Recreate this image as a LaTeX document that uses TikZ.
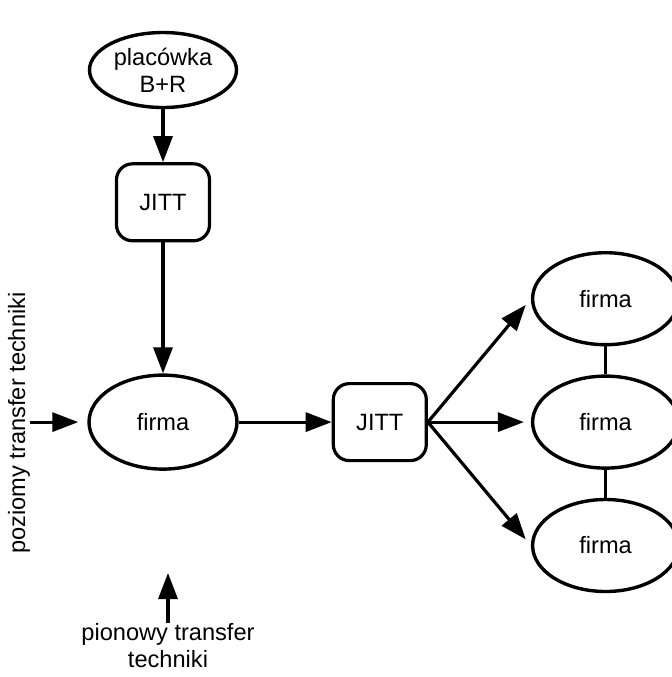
\documentclass[tikz,border=0pt]{standalone}
\usepackage{fontspec}
\setmainfont{Liberation Sans}
\usepackage{tikz}
\usetikzlibrary{arrows.meta, positioning, shapes.geometric}

\begin{document}
\begin{tikzpicture}[
    every node/.style={font=\fontsize{11.8}{13.5}\selectfont},
    unit/.style={ellipse, draw, line width=1.7pt, minimum width=73.5pt,
                 minimum height=37.5pt, inner sep=0pt, align=center},
    firm/.style={ellipse, draw, line width=1.7pt, minimum width=73pt,
                 minimum height=46pt, inner sep=0pt},
    jitt/.style={rectangle, draw, rounded corners=8pt, line width=1.6pt,
                 minimum width=46.5pt, minimum height=38.5pt, inner sep=0pt},
    arrow/.style={-{Triangle[length=13pt, width=9.5pt]}, line width=1.6pt},
    link/.style={line width=1.6pt},
    note/.style={inner sep=0pt, align=center}
]
\useasboundingbox (0,0) rectangle (336pt,-338.5pt);

% chain from the research unit down to the firm
\node[unit] (placowka) at (81.5pt,-35pt) {placówka\\B+R};
\node[jitt, below=26.5pt of placowka] (jitt1) {JITT};
\node[firm, minimum width=74pt, minimum height=47pt,
      below=65.5pt of jitt1] (firmaL) {firma};

% second broker and the firms it serves
\node[jitt, right=46.5pt of firmaL] (jitt2) {JITT};
\node[firm, right=51.5pt of jitt2] (firmaM) {firma};
\node[firm, above=14pt of firmaM] (firmaT) {firma};
\node[firm, below=14pt of firmaM] (firmaB) {firma};

% side labels
\node[note, rotate=90] (poziomy) at (9.5pt,-211.5pt)
    {poziomy transfer techniki};
\coordinate (pionIn) at (84pt,-286.5pt);
\node[note, below=25pt of pionIn] (pionowy)
    {pionowy transfer\\techniki};

\draw[arrow] (placowka) -- (jitt1);
\draw[arrow] (jitt1) -- (firmaL);
\draw[arrow] (firmaL) -- (jitt2);
\draw[arrow, shorten >=4pt] (jitt2.east) -- (firmaT.west);
\draw[arrow, shorten >=3.5pt] (jitt2.east) -- (firmaM.west);
\draw[arrow, shorten >=4pt] (jitt2.east) -- (firmaB.west);
\draw[link] (firmaT) -- (firmaM);
\draw[link] (firmaM) -- (firmaB);

\draw[arrow, shorten >=4.5pt] (poziomy.south |- firmaL) -- (firmaL.west);
\draw[arrow] (pionowy) -- (pionIn);

\end{tikzpicture}
\end{document}
